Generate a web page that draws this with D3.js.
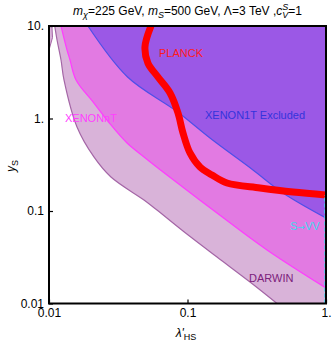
<!DOCTYPE html>
<html>
<head>
<meta charset="utf-8">
<script src="https://cdn.jsdelivr.net/npm/d3@7"></script>
<style>
body { margin: 0; background: #fff; }
text { font-family: "Liberation Sans", Arial, sans-serif; }
</style>
</head>
<body>
<script>
// boundaries as [lambda'_HS, y_S]
var darwin = [[0.0110, 10], [0.01143, 7.06], [0.01221, 4.29], [0.01283, 2.61], [0.01593, 0.809], [0.0211, 0.384],
    [0.0280, 0.233], [0.0485, 0.1315], [0.0602, 0.1025], [0.0928, 0.0608], [0.1633, 0.0318], [0.2827, 0.01707], [0.443, 0.01]];
var darwinSliver = [[0.01, 10], [0.0105, 10], [0.0106, 7.5], [0.01, 5.5]];
var xenonNT = [[0.01221, 10], [0.01349, 5.50], [0.01418, 4.29], [0.01567, 2.61], [0.0211, 1.47], [0.0280, 0.851],
    [0.0366, 0.543], [0.0485, 0.384], [0.0711, 0.245], [0.1633, 0.0951], [0.375, 0.0379], [1, 0.0147]];
var xenon1T = [[0.0191, 10], [0.0369, 2.81], [0.0840, 1.19], [0.1453, 0.615], [0.297, 0.2775],
    [0.489, 0.1566], [1, 0.0840]];
var planck = [[0.0545, 10], [0.0493, 5.93], [0.0518, 3.98], [0.0612, 2.81], [0.0748, 1.89], [0.0854, 1.147],
    [0.0928, 0.697], [0.1042, 0.424], [0.1231, 0.299], [0.1503, 0.245], [0.1928, 0.201], [0.334, 0.1775],
    [0.578, 0.1603], [1, 0.149]];
var sVV = [[1, 0.01], [1, 0.149]];

var xTicks = [0.01, 0.1, 1];
var xTickLabels = ["0.01", "0.1", "1."];
var yTicks = [0.01, 0.1, 1, 10];
var yTickLabels = ["0.01", "0.1", "1.", "10."];

var W = 332, H = 344;
var plotL = 49, plotR = 326, plotT = 26, plotB = 303.5;

var svg = d3.select("body").append("svg")
    .attr("width", W)
    .attr("height", H);

var x = d3.scaleLog().domain([0.01, 1]).range([plotL, plotR]);
var y = d3.scaleLog().domain([0.01, 10]).range([plotB, plotT]);

svg.append("clipPath").attr("id", "clip")
    .append("rect")
    .attr("x", plotL).attr("y", plotT)
    .attr("width", plotR - plotL).attr("height", plotB - plotT);

var plot = svg.append("g").attr("clip-path", "url(#clip)");

var line = d3.line()
    .x(function (d) { return x(d[0]); })
    .y(function (d) { return y(d[1]); })
    .curve(d3.curveCatmullRom.alpha(0.5));

var straight = d3.line()
    .x(function (d) { return x(d[0]); })
    .y(function (d) { return y(d[1]); });

// region above a boundary, closed through the top right corner
function region(pts, corners) {
    var p = line(pts);
    corners.forEach(function (c) {
        p += "L" + x(c[0]) + "," + y(c[1]);
    });
    return p + "Z";
}

plot.append("path")
    .attr("d", region(darwin, [[1, 0.01], [1, 10]]))
    .attr("fill", "#d9b3d9")
    .attr("stroke", "#a466a6")
    .attr("stroke-width", 1.2);

plot.append("path")
    .attr("d", straight(darwinSliver) + "Z")
    .attr("fill", "#d9b3d9")
    .attr("stroke", "#a466a6")
    .attr("stroke-width", 1);

plot.append("path")
    .attr("d", region(xenonNT, [[1, 10]]))
    .attr("fill", "#e27ae2")
    .attr("stroke", "#ff3cff")
    .attr("stroke-width", 1.2);

plot.append("path")
    .attr("d", region(xenon1T, [[1, 10]]))
    .attr("fill", "#9b58e6")
    .attr("stroke", "#4f4fe8")
    .attr("stroke-width", 1.2);

plot.append("path")
    .attr("d", line(planck))
    .attr("fill", "none")
    .attr("stroke", "#ff0000")
    .attr("stroke-width", 7);

plot.append("path")
    .attr("d", d3.line().x(function (d) { return x(d[0]) - 1; }).y(function (d) { return y(d[1]); })(sVV))
    .attr("stroke", "#3fd8ee")
    .attr("stroke-width", 1.5)
    .attr("stroke-dasharray", "4,2");

// frame
svg.append("rect")
    .attr("x", plotL).attr("y", plotT)
    .attr("width", plotR - plotL).attr("height", plotB - plotT)
    .attr("fill", "none")
    .attr("stroke", "#000")
    .attr("stroke-width", 2);

var xAxis = d3.axisBottom(x)
    .tickValues(xTicks)
    .tickFormat(function (d, i) { return xTickLabels[i]; })
    .tickSizeInner(-4).tickSizeOuter(0).tickPadding(5);
var gx = svg.append("g").attr("transform", "translate(0," + plotB + ")").call(xAxis);

var yAxis = d3.axisLeft(y)
    .tickValues(yTicks)
    .tickFormat(function (d, i) { return yTickLabels[i]; })
    .tickSizeInner(-4).tickSizeOuter(0).tickPadding(5);
var gy = svg.append("g").attr("transform", "translate(" + plotL + ",0)").call(yAxis);

[gx, gy].forEach(function (g) {
    g.select(".domain").remove();
    g.selectAll("line").attr("stroke", "#000").attr("stroke-width", 1.2);
    g.selectAll("text").attr("fill", "#000")
        .style("font-family", "'Liberation Sans', Arial, sans-serif")
        .style("font-size", "12px");
});

// labels inside the plot
function label(txt, px, py, color) {
    return svg.append("text").attr("x", px).attr("y", py)
        .attr("fill", color)
        .style("font-size", "11px")
        .text(txt);
}
label("PLANCK", 159, 57, "#ff1a1a");
label("XENON1T Excluded", 205, 119, "#3434dc");
label("XENONnT", 65, 122, "#ff40ff");
label("DARWIN", 249, 282, "#7c217c");
var svv = label("", 290, 230, "#3fd8ee");
svv.append("tspan").text("S");
svv.append("tspan").style("font-family", "'DejaVu Sans', sans-serif").style("font-size", "9px").text("\u2192");
svv.append("tspan").text("VV");

// title
var title = svg.append("text")
    .attr("x", (plotL + plotR) / 2).attr("y", 15)
    .attr("text-anchor", "middle")
    .style("font-size", "12px");
title.append("tspan").style("font-style", "italic").text("m");
title.append("tspan").attr("dy", 3).style("font-size", "9px").style("font-style", "italic").text("\u03c7");
title.append("tspan").attr("dy", -3).text("=225 GeV, ");
title.append("tspan").style("font-style", "italic").text("m");
title.append("tspan").attr("dy", 3).style("font-size", "9px").style("font-style", "italic").text("S");
title.append("tspan").attr("dy", -3).text("=500 GeV, \u039b=3 TeV ,");
title.append("tspan").style("font-style", "italic").text("c");
title.append("tspan").attr("dy", -5).style("font-size", "9px").style("font-style", "italic").text("S");
title.append("tspan").attr("dx", -6).attr("dy", 8).style("font-size", "9px").style("font-style", "italic").text("V");
title.append("tspan").attr("dy", -3).text("=1");

// axis titles
var xl = svg.append("text")
    .attr("x", 186).attr("y", 337)
    .attr("text-anchor", "middle")
    .style("font-size", "12px");
xl.append("tspan").style("font-style", "italic").text("\u03bb'");
xl.append("tspan").attr("dy", 3).style("font-size", "9px").text("HS");

var yl = svg.append("text")
    .attr("transform", "translate(15,166) rotate(-90)")
    .attr("text-anchor", "middle")
    .style("font-size", "12px");
yl.append("tspan").style("font-style", "italic").text("y");
yl.append("tspan").attr("dy", 3).style("font-size", "9px").text("S");
</script>
</body>
</html>
